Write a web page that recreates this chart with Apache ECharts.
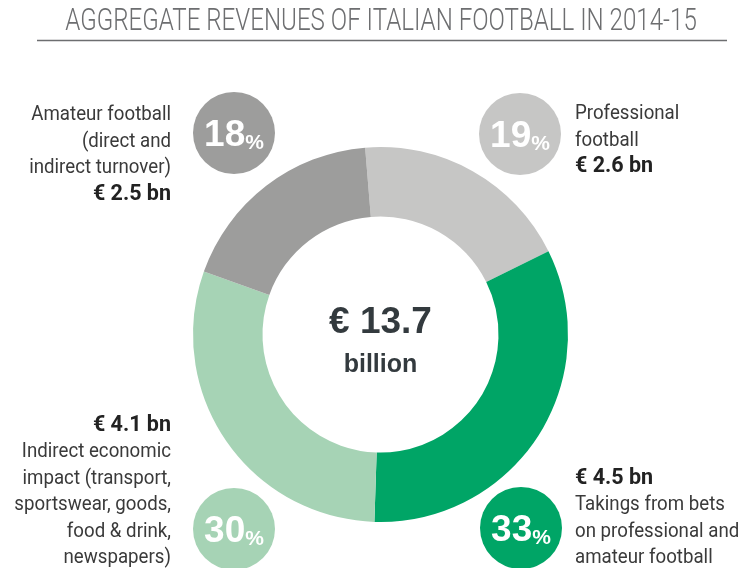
<!DOCTYPE html>
<html>
<head>
<meta charset="utf-8">
<script src="https://cdn.jsdelivr.net/npm/echarts@6/dist/echarts.min.js"></script>
<style>
html,body{margin:0;padding:0;background:#fff;}
#chart{width:739px;height:568px;}
</style>
</head>
<body>
<div id="chart"></div>
<script>
// ---- data ----
var titleText = 'AGGREGATE REVENUES OF ITALIAN FOOTBALL IN 2014-15';
var categories = ['Professional football', 'Takings from bets', 'Indirect economic impact', 'Amateur football'];
var values = [2.6, 4.5, 4.1, 2.5];           // € billion
var percents = [19, 33, 30, 18];             // %
var valueLabels = ['€ 2.6 bn', '€ 4.5 bn', '€ 4.1 bn', '€ 2.5 bn'];
var descLines = [
  ['Professional', 'football'],
  ['Takings from bets', 'on professional and', 'amateur football'],
  ['Indirect economic', 'impact (transport,', 'sportswear, goods,', 'food & drink,', 'newspapers)'],
  ['Amateur football', '(direct and', 'indirect turnover)']
];
var totalLabel = '€ 13.7';
var totalUnit = 'billion';

// ---- styles / layout ----
var colors = ['#c6c6c5', '#00a566', '#a6d3b5', '#9d9d9c'];
var SIDE = "Roboto, 'Liberation Sans', sans-serif";
var SANS = "'Liberation Sans', Arial, sans-serif";
var badgePos = [[520, 134], [521, 528], [234, 529], [234, 133]];
var LH = 26.4;
var textBlocks = [
  {x: 575, y: 101, align: 'left', valueFirst: false},
  {x: 575, y: 465.5, align: 'left', valueFirst: true},
  {x: 171, y: 412.5, align: 'right', valueFirst: true},
  {x: 171, y: 102, align: 'right', valueFirst: false}
];
var sideScale = 0.89;
var titleScale = 0.778;

var chart = echarts.init(document.getElementById('chart'), null, {renderer: 'canvas'});

var graphics = [];
graphics.push({
  type: 'text', x: 381, y: 22.5, scaleX: titleScale, originX: 0, originY: 0,
  style: {text: titleText, fill: '#6d6e70', font: '300 31px ' + SIDE,
          align: 'center', verticalAlign: 'middle', textAlign: 'center', textVerticalAlign: 'middle'}
});
graphics.push({
  type: 'line', shape: {x1: 37, y1: 40.5, x2: 727, y2: 40.5},
  style: {stroke: '#6d6e70', lineWidth: 1.5}
});
graphics.push({
  type: 'text', x: 380.5, y: 323,
  style: {text: totalLabel, fill: '#333a3e', font: 'bold 37px ' + SANS, align: 'center', verticalAlign: 'middle', textAlign: 'center', textVerticalAlign: 'middle'}
});
graphics.push({
  type: 'text', x: 380.5, y: 365,
  style: {text: totalUnit, fill: '#333a3e', font: 'bold 25px ' + SANS, align: 'center', verticalAlign: 'middle', textAlign: 'center', textVerticalAlign: 'middle'}
});

for (var i = 0; i < values.length; i++) {
  graphics.push({
    type: 'circle', shape: {cx: badgePos[i][0], cy: badgePos[i][1], r: 41},
    style: {fill: colors[i]}
  });
  graphics.push({
    type: 'text', x: badgePos[i][0], y: badgePos[i][1] + 1,
    style: {
      text: '{n|' + percents[i] + '}{p|%}',
      align: 'center', verticalAlign: 'middle', textAlign: 'center', textVerticalAlign: 'middle',
      rich: {
        n: {fill: '#fff', font: 'bold 37px ' + SANS, verticalAlign: 'bottom', lineHeight: 40},
        p: {fill: '#fff', font: 'bold 21px ' + SANS, verticalAlign: 'bottom', lineHeight: 34}
      }
    }
  });
  var tb = textBlocks[i];
  var nDesc = descLines[i].length;
  var descY = tb.valueFirst ? tb.y + LH : tb.y;
  var valY = tb.valueFirst ? tb.y : tb.y + nDesc * LH;
  graphics.push({
    type: 'text', x: tb.x, y: descY, scaleX: sideScale, originX: 0, originY: 0,
    style: {
      text: descLines[i].join('\n'),
      fill: '#3a3a3a', font: '21px ' + SIDE, lineHeight: LH,
      align: tb.align, verticalAlign: 'top', textAlign: tb.align, textVerticalAlign: 'top'
    }
  });
  graphics.push({
    type: 'text', x: tb.x, y: valY,
    style: {
      text: valueLabels[i],
      fill: '#222', font: 'bold 21.5px ' + SIDE, lineHeight: LH,
      align: tb.align, verticalAlign: 'top', textAlign: tb.align, textVerticalAlign: 'top'
    }
  });
}

chart.setOption({
  animation: false,
  backgroundColor: '#fff',
  series: [{
    type: 'pie',
    center: [380.5, 334.5],
    radius: [118, 187.5],
    startAngle: 94.7,
    clockwise: true,
    label: {show: false},
    labelLine: {show: false},
    emphasis: {disabled: true},
    itemStyle: {borderWidth: 0},
    data: categories.map(function (c, i) {
      return {name: c, value: values[i], itemStyle: {color: colors[i]}};
    })
  }],
  graphic: graphics
});
</script>
</body>
</html>
